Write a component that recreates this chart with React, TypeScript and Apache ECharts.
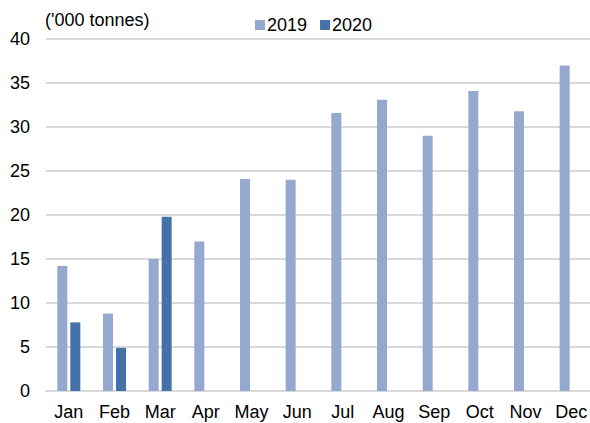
import React, { useEffect, useRef } from "react";
import * as echarts from "echarts";

const categories = ["Jan", "Feb", "Mar", "Apr", "May", "Jun", "Jul", "Aug", "Sep", "Oct", "Nov", "Dec"];
const values2019 = [14.2, 8.8, 15.0, 17.0, 24.1, 24.0, 31.6, 33.1, 29.0, 34.1, 31.8, 37.0];
const values2020 = [7.8, 4.9, 19.8, null, null, null, null, null, null, null, null, null];
const yTicks = { min: 0, max: 40, interval: 5 };

export default function App() {
  const ref = useRef<HTMLDivElement>(null);
  useEffect(() => {
    if (!ref.current) return;
    const chart = echarts.init(ref.current, undefined, { renderer: "svg" });
    const font = "'Liberation Sans', Arial, sans-serif";
    chart.setOption({
      animation: false,
      textStyle: { fontFamily: font },
      grid: { left: 46, right: 2, top: 39, bottom: 32 },
      legend: {
        data: ["2019", "2020"],
        left: 250,
        top: 11,
        itemWidth: 10,
        itemHeight: 10,
        itemGap: 13,
        icon: "rect",
        textStyle: { fontSize: 18, color: "#000", fontFamily: font, padding: [0, 0, 0, -3] },
      },
      graphic: [
        {
          type: "text",
          left: 45,
          top: 11,
          style: { text: "('000 tonnes)", fontSize: 18, fill: "#000", fontFamily: font },
        },
      ],
      xAxis: {
        type: "category",
        data: categories,
        axisLine: { show: true, lineStyle: { color: "#d9d9d9", width: 2 } },
        axisTick: { show: false },
        axisLabel: { fontSize: 18, color: "#000", margin: 12, fontFamily: font },
      },
      yAxis: {
        type: "value",
        min: yTicks.min,
        max: yTicks.max,
        interval: yTicks.interval,
        axisLine: { show: false },
        axisTick: { show: false },
        splitLine: { lineStyle: { color: "#d9d9d9", width: 2 } },
        axisLabel: { fontSize: 18, color: "#000", margin: 16, fontFamily: font },
      },
      series: [
        {
          name: "2019",
          type: "bar",
          data: values2019,
          barWidth: 10,
          barGap: "30%",
          itemStyle: { color: "#95a9d0" },
        },
        {
          name: "2020",
          type: "bar",
          data: values2020,
          barWidth: 10,
          itemStyle: { color: "#4472a8" },
        },
      ],
    });
    return () => chart.dispose();
  }, []);
  return (
    <div
      ref={ref}
      style={{ position: "absolute", left: 0, top: 0, width: 596, height: 423, background: "#fff" }}
    />
  );
}
